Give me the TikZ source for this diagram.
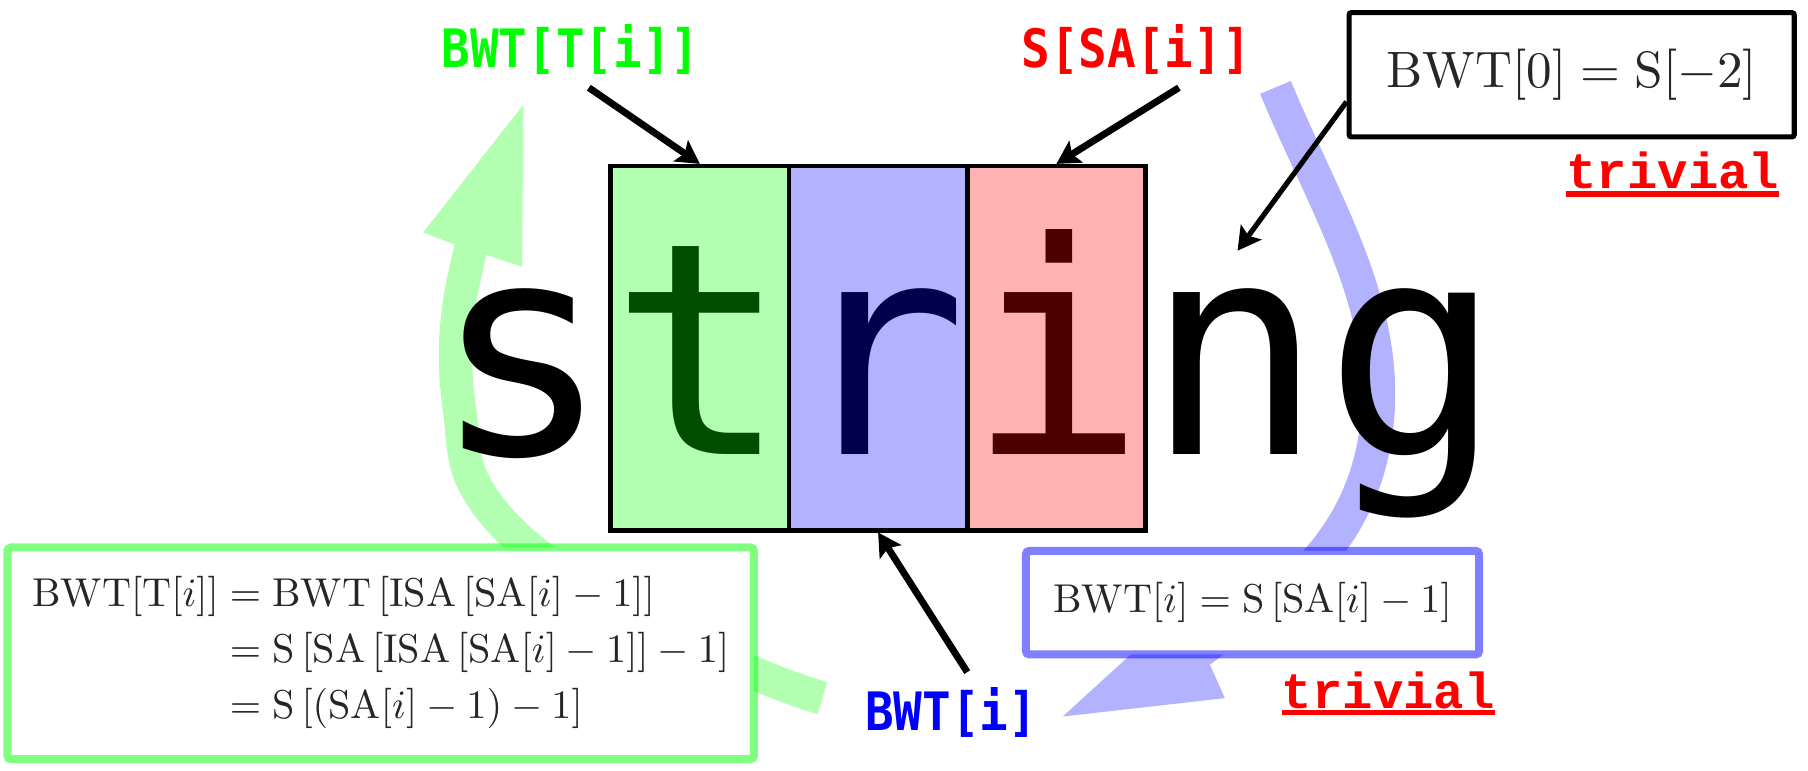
\documentclass[tikz,border=0pt]{standalone}
\usepackage{fix-cm}
\usepackage{amsmath}
\usepackage{graphicx}
\usepackage{fontspec}
\usetikzlibrary{arrows.meta}
\newfontfamily\bigmono{DejaVu Sans Mono}
\newfontfamily\labelmono[FakeStretch=0.9]{DejaVu Sans Mono}
\newfontfamily\trivmono{Liberation Mono}
\tikzset{
  cell/.style={draw=black,line width=4pt,fill opacity=0.3,minimum width=155pt,minimum height=316.5pt,inner sep=0pt},
  lbl/.style={font=\labelmono\bfseries\fontsize{46}{46}\selectfont,inner sep=3pt},
  triv/.style={font=\trivmono\bfseries\fontsize{44}{44}\selectfont,text=red,inner sep=0pt},
  eqbox/.style={fill=white,line width=7pt,rounded corners=3pt,inner sep=0pt,text=black!85,font=\fontsize{10}{12}\selectfont},
  ptr/.style={-{Stealth[length=20pt,width=22pt,inset=4pt]},line width=6pt},
  band/.style={line width=29pt},
}
\begin{document}
\begin{tikzpicture}[x=1pt,y=-1pt]
\useasboundingbox (0,0) rectangle (1572,669.5);
\draw[band,green!30] plot[smooth,tension=0.6] coordinates {(715,607) (655,585) (540,530) (456,473) (411,418) (400,360) (396,309) (400,260) (412,205)};
\fill[green!30] (455,91) -- (368,202) -- (396,213) -- (424,222) -- (454,232) -- cycle;
\draw[band,blue!30] (1109,76) .. controls (1150,175) and (1205,260) .. (1198,360) .. controls (1192,440) and (1150,500) .. (1070,548);
\fill[blue!30] (924,623) -- (1065,607) -- (1052,578) -- (1095,545) -- (1015,540) -- cycle;
\node[anchor=base west,inner sep=0pt,font=\bigmono\fontsize{257.5}{257.5}\selectfont] (word) at (376,395) {string};
\node[cell,fill=green] (tbox) at (608.5,302.75) {};
\node[cell,fill=blue] (rbox) at (763.5,302.75) {};
\node[cell,fill=red] (ibox) at (918.5,302.75) {};
\node[eqbox,draw=green,draw opacity=0.5,minimum width=649pt,minimum height=184pt] (derive) at (331,568)
  {\scalebox{3.5}{\setlength{\jot}{1.9pt}$\begin{aligned}
  \mathrm{BWT}[\mathrm{T}[i]] &= \mathrm{BWT}\left[\mathrm{ISA}\left[\mathrm{SA}[i]-1\right]\right]\\
  &= \mathrm{S}\left[\mathrm{SA}\left[\mathrm{ISA}\left[\mathrm{SA}[i]-1\right]\right]-1\right]\\
  &= \mathrm{S}\left[\left(\mathrm{SA}[i]-1\right)-1\right]
  \end{aligned}$}};
\node[eqbox,draw=blue,draw opacity=0.5,minimum width=394pt,minimum height=90pt] (bwteq) at (1089,524)
  {\scalebox{3.5}{$\mathrm{BWT}[i]=\mathrm{S}\left[\mathrm{SA}[i]-1\right]$}};
\node[eqbox,draw=black,line width=4.5pt,rounded corners=2pt,minimum width=387pt,minimum height=108pt] (zero) at (1366.5,65)
  {\scalebox{4.45}{$\mathrm{BWT}[0]=\mathrm{S}[-2]$}};
\node[lbl,text=green,anchor=base] (bwtt) at (496,59) {BWT[T[i]]};
\node[lbl,text=red,anchor=base] (ssa) at (988,59) {S[SA[i]]};
\node[lbl,text=blue,anchor=base] (bwti) at (827,635) {BWT[i]};
\node[triv,anchor=base] (triv1) at (1454.5,164) {trivial};
\node[triv,anchor=base] (triv2) at (1207,616) {trivial};
\draw[red,line width=5pt] ([yshift=-4.5pt]triv1.base west) -- ([yshift=-4.5pt]triv1.base east);
\draw[red,line width=4.5pt] ([yshift=-3.5pt]triv2.base west) -- ([yshift=-3.5pt]triv2.base east);
\coordinate (gtip) at (1076,218);
\draw[ptr] ([xshift=16pt,yshift=-8pt]bwtt.south) -- (tbox.north);
\draw[ptr] ([xshift=37pt,yshift=-8pt]ssa.south) -- (ibox.north);
\draw[ptr] ([xshift=14pt,yshift=10pt]bwti.north) -- (rbox.south);
\draw[ptr,line width=4.5pt] ([yshift=-23.5pt]zero.west) -- (gtip);
\end{tikzpicture}
\end{document}
